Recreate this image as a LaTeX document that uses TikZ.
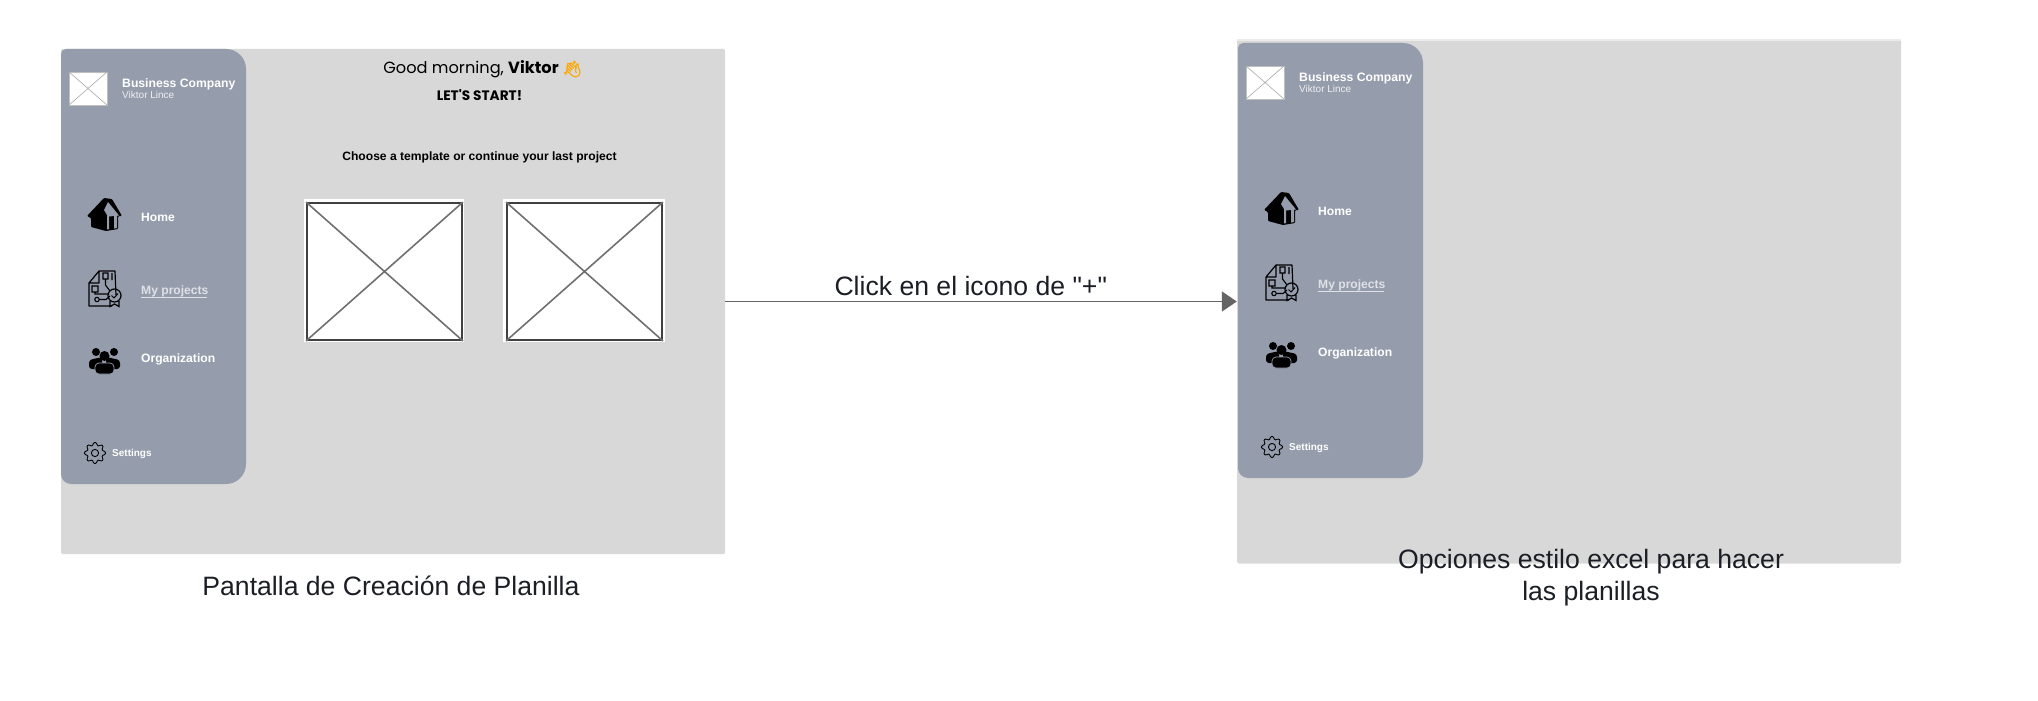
\documentclass[tikz,border=0pt]{standalone}
\usepackage{fontspec}
\setmainfont{Liberation Sans}
\newfontfamily\capfont{Liberation Sans}
\newfontfamily\greetfont{Poppins}
\newfontfamily\emojifont[FakeBold=2.5]{Noto Emoji}
\usepackage{xcolor}
\usetikzlibrary{positioning,arrows.meta,calc}
\definecolor{screengray}{HTML}{D8D8D8}
\definecolor{sidegray}{HTML}{959CAB}
\definecolor{wireline}{HTML}{707070}
\definecolor{capink}{HTML}{1C1E26}
\tikzset{
  screen/.style   ={rectangle, fill=screengray, rounded corners=1.5pt, inner sep=0pt},
  caption/.style  ={align=center, text=capink, inner sep=0pt, font=\capfont\fontsize{26.6}{32}\selectfont},
  sidehead/.style ={anchor=west, inner sep=0pt, text=white, font=\bfseries\fontsize{12.2}{15}\selectfont},
  sidesub/.style  ={anchor=west, inner sep=0pt, text=white!85!sidegray, font=\fontsize{10}{11}\selectfont},
  sideitem/.style ={anchor=west, inner sep=0pt, text=white, font=\bfseries\fontsize{12.1}{15}\selectfont},
  maintext/.style ={inner sep=0pt, text=black, font=\bfseries\fontsize{12.1}{15}\selectfont},
  arr/.style      ={-{Triangle[length=15pt,width=20pt]}, draw=wireline!90!black, line width=1.6pt},
  pics/sidebar/.style={code={
    \fill[sidegray, rounded corners=5pt] (61,49) [rounded corners=20pt] -- (246,49) -- (246,484) [rounded corners=10pt] -- (61,484) [rounded corners=5pt] -- cycle;
    % logo
    \node[rectangle, draw=white!75!black, line width=.6pt, fill=white, minimum width=38pt, minimum height=33pt, inner sep=0pt] (logo) at (88,88.5) {};
    \draw[draw=wireline!60!white, line width=.6pt] (logo.north west) -- (logo.south east) (logo.north east) -- (logo.south west);
    \node[sidehead] (company) at (122,84) {Business Company};
    \node[sidesub]  (owner)   at (122,94.5) {Viktor Lince};
    % menu
    \node[sideitem] (home) at (141,217) {Home};
    \node[sideitem, text=white!70!sidegray] (projects) at (141,291) {My projects};
    \draw[draw=white!70!sidegray, line width=.8pt] (141,297.5) -- (207,297.5);
    \node[sideitem] (org) at (141,359) {Organization};
    \node[sidesub, text=white, font=\bfseries\fontsize{10}{12}\selectfont] (settings) at (112,454) {Settings};
    % house icon
    \fill[black, rounded corners=1pt] (87,216) -- (104,198) -- (112,199) -- (122,216) -- (118,216) -- (118,229) -- (106,231) -- (91,227) -- (91,218) -- cycle;
    \fill[sidegray] (108,202) -- (119,215.5) -- (117,215.5) -- (117,228) -- (114,228.6) -- (114,216) -- (109,216.5) -- (109,229) -- (107,229.5) -- (107,215) -- (104,210) -- cycle;
    % document icon
    \draw[black, line width=1.2pt, line join=round] (99,271) -- (115,271) -- (116,295) (112,306) -- (89,306) -- (89,283) -- (99,271) -- (99,283) -- (89,283);
    \draw[black, line width=1.1pt] (103,273) rectangle (108,279) (105.5,279) -- (105.5,285) -- (110,291) (112,273) -- (112,280)
       (92,286) rectangle (98,292) (95,292) -- (95,294) -- (100,294) -- (109,294) (97,299.5) circle[radius=2.2] (99,299.5) -- (106,299.5) -- (110,296);
    \draw[black, line width=1.2pt] (114.5,295.5) circle[radius=6.5] (110,301) -- (110,306.5) -- (114.5,304) -- (119,306.5) -- (119,301);
    \draw[black, line width=1pt] (111.5,295.5) -- (114,298) -- (118,293.5);
    % people icon
    \fill[black] (96,352) circle[radius=4] (114,352) circle[radius=4] (104.5,356) circle[radius=5];
    \fill[black, rounded corners=3pt] (89,369) -- (89,360) -- (102,357) -- (102,369) -- cycle (106,357) -- (120,360) -- (120,369) -- (106,369) -- cycle;
    \fill[black, draw=sidegray, line width=.7pt, rounded corners=4pt] (95,374) -- (95,363) -- (114,363) -- (114,374) -- cycle;
    % gear icon
    \draw[black, line width=.9pt] plot[domain=0:360, samples=73, smooth] ({95+(9.2+1.4*cos(8*\x))*cos(\x)},{453+(9.2+1.4*cos(8*\x))*sin(\x)}) -- cycle;
    \draw[black, line width=.9pt] (95,453) circle[radius=3.6];
  }},
}
\begin{document}
\begin{tikzpicture}[x=1pt, y=-1pt]
  \useasboundingbox (0,0) rectangle (2038,701);

  \node[screen, minimum width=664pt, minimum height=505pt] (screenA) at (393,301.5) {};
  \node[screen, minimum width=664pt, minimum height=524pt] (screenB) at (1569,301.5) {};
  \fill[white!92!black] (screenB.north west) rectangle ($(screenB.north east)+(0,2)$);

  % Left and right side panels
  \pic (left) at (0,0) {sidebar};
  \pic (right) at (1177,-6) {sidebar};

  % Texts of the first screen
  \node[inner sep=0pt, font=\greetfont\fontsize{16.2}{21}\selectfont] (greet) at (471,69) {Good morning, \textbf{Viktor}};
  \node[right=3pt of greet, inner sep=0pt, text=orange!70!yellow, font=\emojifont\fontsize{16}{18}\selectfont] (wave) {^^^^^^01f44b};
  \node[maintext, font=\greetfont\bfseries\fontsize{13.7}{15}\selectfont] (start) at (479.5,95) {LET'S START!};
  \node[maintext] (choose) at (479.5,157) {Choose a template or continue your last project};

  % Templates
  \node[rectangle, fill=white, minimum width=160pt, minimum height=143pt, inner sep=0pt] (frameA) at (384,270.5) {};
  \node[rectangle, fill=white, minimum width=162pt, minimum height=143pt, inner sep=0pt] (frameB) at (584,270.5) {};
  \node[rectangle, draw=black!75, line width=1.8pt, minimum width=155pt, minimum height=137pt, inner sep=0pt] (tplA) at (384.5,271.5) {};
  \node[rectangle, draw=black!75, line width=1.8pt, minimum width=155pt, minimum height=137pt, inner sep=0pt] (tplB) at (584.5,271.5) {};
  \draw[draw=wireline, line width=1.6pt] (tplA.north west) -- (tplA.south east) (tplA.north east) -- (tplA.south west);
  \draw[draw=wireline, line width=1.6pt] (tplB.north west) -- (tplB.south east) (tplB.north east) -- (tplB.south west);

  % Arrow between the screens
  \draw[arr] (screenA) -- (screenB) node[pos=.48, above=5pt, caption]{Click en el icono de "+"};

  % Captions
  \node[caption] (capA) at (391,586) {Pantalla de Creación de Planilla};
  \node[caption] (capB) at (1591,578) {Opciones estilo excel para hacer\\las planillas};
\end{tikzpicture}
\end{document}
